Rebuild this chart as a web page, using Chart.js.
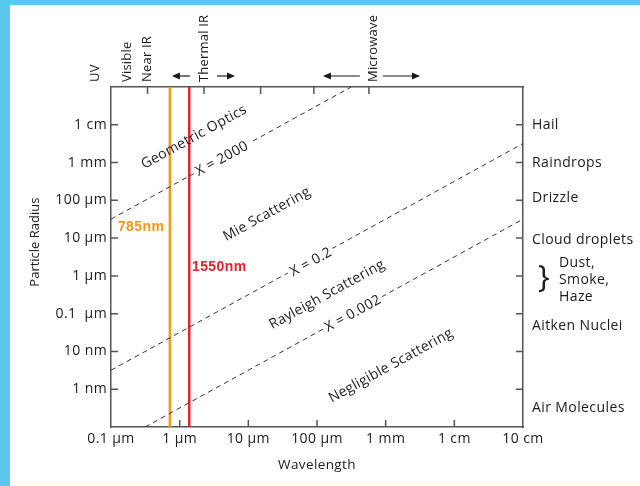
<!DOCTYPE html>
<html>
<head>
<meta charset="utf-8">
<script src="https://cdn.jsdelivr.net/npm/chart.js@4.4.1/dist/chart.umd.min.js"></script>
<style>
  html, body { margin: 0; padding: 0; background: #fff; }
  canvas { display: block; }
</style>
</head>
<body>
<canvas id="chart" width="640" height="486"></canvas>
<script>
// --- Data (all values in metres) ---
const wavelengthTicks = [1e-7, 1e-6, 1e-5, 1e-4, 1e-3, 1e-2, 1e-1];
const wavelengthLabels = ['0.1 µm', '1 µm', '10 µm', '100 µm', '1 mm', '1 cm', '10 cm'];
const radiusTicks = [1e-9, 1e-8, 1e-7, 1e-6, 1e-5, 1e-4, 1e-3, 1e-2];
const radiusLabels = ['1 nm', '10 nm', '0.1  µm', '1 µm', '10 µm', '100 µm', '1 mm', '1 cm'];

// spectral bands along the top edge
const bandTicks = [3.4e-7, 2.26e-6, 1.51e-5, 9.0e-5, 5.7e-4];
const bandNames = ['UV', 'Visible', 'Near IR', 'Thermal IR', 'Microwave'];
const bandAt = [5.85e-8, 1.71e-7, 3.34e-7, 2.26e-6, 6.5e-4];
const bandArrows = [[1.41e-6, 7.7e-7], [3.5e-6, 6.4e-6], [4.2e-4, 1.22e-4], [9.1e-4, 3.16e-3]]; // from -> to

// particle types along the right edge
const particleNames = ['Hail', 'Raindrops', 'Drizzle', 'Cloud droplets', ['Dust,', 'Smoke,', 'Haze'], 'Aitken Nuclei', 'Air Molecules'];
const particleAt = [1e-2, 1e-3, 1.14e-4, 8.7e-6, 7.6e-7, 4.6e-8, 3.1e-10];

// size parameter lines (end points)
const lineX2000 = [{x: 1e-7, y: 3.18e-5}, {x: 3.14e-4, y: 1e-1}];
const lineX02 = [{x: 1e-7, y: 3.18e-9}, {x: 1e-1, y: 3.18e-3}];
const lineX0002 = [{x: 3.14e-7, y: 1e-10}, {x: 1e-1, y: 3.18e-5}];

// laser wavelengths
const laserNames = ['785nm', '1550nm'];
const laserAt = [7.2e-7, 1.38e-6];
const laserColors = ['#f7941d', '#e3202b'];
const laserLabelAt = [{x: 1.26e-7, y: 1.93e-5}, {x: 1.51e-6, y: 1.68e-6}];

// region labels (centre of each text)
const regionNames = ['Geometric Optics', 'X = 2000', 'Mie Scattering', 'X = 0.2', 'Rayleigh Scattering', 'X = 0.002', 'Negligible Scattering'];
const regionAt = [
    {x: 1.62e-6, y: 4.72e-3},
    {x: 4.13e-6, y: 1.25e-3},
    {x: 1.87e-5, y: 4.28e-5},
    {x: 8.17e-5, y: 2.3e-6},
    {x: 1.4e-4, y: 3.2e-7},
    {x: 3.34e-4, y: 1.0e-7},
    {x: 1.19e-3, y: 4.2e-9}
];
const regionOnLine = [false, true, false, true, false, true, false];

const FONT = '"Open Sans", "DejaVu Sans", sans-serif';
const INK = '#1a1a1a';
const AXIS = '#555';
const SPACING = '0.4px';

// --- Datasets ---
function dashed(data) {
    return { data, borderColor: '#333', borderWidth: 1, borderDash: [5, 4], pointRadius: 0, fill: false };
}
const datasets = [dashed(lineX2000), dashed(lineX02), dashed(lineX0002)];
laserAt.forEach((v, i) => {
    datasets.push({
        data: [{x: v, y: 1e-10}, {x: v, y: 1e-1}],
        borderColor: laserColors[i], borderWidth: 2.5, pointRadius: 0, fill: false
    });
});

// --- Extra labels, inward ticks and page edge ---
const overlay = {
    id: 'overlay',
    beforeDraw(chart) {
        const { ctx, width, height } = chart;
        ctx.save();
        ctx.fillStyle = '#fff';
        ctx.fillRect(0, 0, width, height);
        ctx.fillStyle = '#fdfcf1';
        ctx.fillRect(0, 482, width, height - 482);
        ctx.fillStyle = '#5bc6ee';
        ctx.fillRect(0, 0, 10, height);
        ctx.fillRect(0, 0, width, 5);
        ctx.restore();
        // slightly wider tracking for the axis tick labels
        ctx.letterSpacing = SPACING;
    },
    afterDraw(chart) {
        const { ctx, chartArea: a } = chart;
        const xs = chart.scales.x;
        const ys = chart.scales.y;
        ctx.save();

        // inward tick marks
        ctx.strokeStyle = AXIS;
        ctx.lineWidth = 1.5;
        ctx.beginPath();
        radiusTicks.forEach((v) => {
            const y = ys.getPixelForValue(v);
            ctx.moveTo(a.left, y); ctx.lineTo(a.left + 7, y);
            ctx.moveTo(a.right, y); ctx.lineTo(a.right - 7, y);
        });
        wavelengthTicks.slice(1, -1).forEach((v) => {
            const x = xs.getPixelForValue(v);
            ctx.moveTo(x, a.bottom); ctx.lineTo(x, a.bottom - 7);
        });
        bandTicks.forEach((v) => {
            const x = xs.getPixelForValue(v);
            ctx.moveTo(x, a.top); ctx.lineTo(x, a.top + 7);
        });
        ctx.stroke();

        // band names (rotated) and arrows
        ctx.letterSpacing = '0.2px';
        ctx.fillStyle = INK;
        ctx.font = '13px ' + FONT;
        ctx.textAlign = 'left';
        ctx.textBaseline = 'middle';
        bandNames.forEach((name, i) => {
            ctx.save();
            ctx.translate(xs.getPixelForValue(bandAt[i]), a.top - 5);
            ctx.rotate(-Math.PI / 2);
            ctx.fillText(name, 0, 0);
            ctx.restore();
        });
        ctx.strokeStyle = INK;
        ctx.lineWidth = 1.2;
        bandArrows.forEach(([from, to]) => {
            const x0 = xs.getPixelForValue(from);
            const x1 = xs.getPixelForValue(to);
            const y = a.top - 11;
            const dir = Math.sign(x1 - x0);
            ctx.beginPath();
            ctx.moveTo(x0, y); ctx.lineTo(x1 - dir * 5, y);
            ctx.stroke();
            ctx.beginPath();
            ctx.moveTo(x1, y); ctx.lineTo(x1 - dir * 8, y - 3.5); ctx.lineTo(x1 - dir * 8, y + 3.5);
            ctx.closePath();
            ctx.fill();
        });

        // y axis title
        ctx.save();
        ctx.font = '13px ' + FONT;
        ctx.letterSpacing = '0px';
        ctx.translate(35, (ys.getPixelForValue(1e-4) + ys.getPixelForValue(1e-6)) / 2 + 4);
        ctx.rotate(-Math.PI / 2);
        ctx.textAlign = 'center';
        ctx.fillText('Particle Radius', 0, 0);
        ctx.restore();

        // particle types on the right
        ctx.letterSpacing = SPACING;
        ctx.font = '14px ' + FONT;
        ctx.textAlign = 'left';
        particleNames.forEach((name, i) => {
            const y = ys.getPixelForValue(particleAt[i]);
            if (Array.isArray(name)) {
                name.forEach((line, k) => ctx.fillText(line, a.right + 36, y + (k - 1) * 17));
                ctx.save();
                ctx.font = '31px ' + FONT;
                ctx.textAlign = 'center';
                ctx.fillText('}', a.right + 21, y - 2);
                ctx.restore();
            } else {
                ctx.fillText(name, a.right + 9, y);
            }
        });

        // laser labels
        ctx.font = 'bold 14px "Liberation Sans", Arial, sans-serif';
        laserNames.forEach((name, i) => {
            ctx.fillStyle = laserColors[i];
            ctx.fillText(name, xs.getPixelForValue(laserLabelAt[i].x), ys.getPixelForValue(laserLabelAt[i].y));
        });

        // diagonal region labels
        const ang = Math.atan2(
            ys.getPixelForValue(1e-5) - ys.getPixelForValue(1e-6),
            xs.getPixelForValue(1e-5) - xs.getPixelForValue(1e-6)
        );
        ctx.letterSpacing = '0.3px';
        ctx.font = '14px ' + FONT;
        ctx.textAlign = 'center';
        regionNames.forEach((name, i) => {
            ctx.save();
            ctx.translate(xs.getPixelForValue(regionAt[i].x), ys.getPixelForValue(regionAt[i].y));
            ctx.rotate(ang);
            if (regionOnLine[i]) {
                const w = ctx.measureText(name).width;
                ctx.fillStyle = '#fff';
                ctx.fillRect(-w / 2 - 3, -6, w + 6, 12);
            }
            ctx.fillStyle = INK;
            ctx.fillText(name, 0, 0);
            ctx.restore();
        });

        ctx.restore();
    }
};

const tickFont = { family: FONT, size: 14 };
const border = { display: true, color: AXIS, width: 1.5 };

new Chart(document.getElementById('chart'), {
    type: 'line',
    data: { datasets },
    plugins: [overlay],
    options: {
        responsive: false,
        animation: false,
        layout: { padding: 0 },
        plugins: { legend: { display: false }, tooltip: { enabled: false } },
        scales: {
            x: {
                type: 'logarithmic', position: 'bottom', min: 1e-7, max: 1e-1,
                afterFit: (s) => { s.height = 59; },
                afterBuildTicks: (s) => { s.ticks = wavelengthTicks.map((v) => ({ value: v })); },
                ticks: {
                    autoSkip: false, maxRotation: 0, padding: 4, color: INK, font: tickFont,
                    callback: (v, i) => wavelengthLabels[i]
                },
                grid: { display: false, drawTicks: false },
                border,
                title: { display: true, text: 'Wavelength', color: INK, font: { family: FONT, size: 13.5 }, padding: { bottom: 13 } }
            },
            xTop: {
                type: 'logarithmic', position: 'top', min: 1e-7, max: 1e-1,
                afterFit: (s) => { s.height = 87; },
                ticks: { display: false },
                grid: { display: false, drawTicks: false },
                border
            },
            y: {
                type: 'logarithmic', position: 'left', min: 1e-10, max: 1e-1,
                afterFit: (s) => { s.width = 111; },
                afterBuildTicks: (s) => { s.ticks = radiusTicks.map((v) => ({ value: v })); },
                ticks: {
                    autoSkip: false, padding: 4, color: INK, font: tickFont,
                    callback: (v, i) => radiusLabels[i]
                },
                grid: { display: false, drawTicks: false },
                border
            },
            yRight: {
                type: 'logarithmic', position: 'right', min: 1e-10, max: 1e-1,
                afterFit: (s) => { s.width = 117; },
                ticks: { display: false },
                grid: { display: false, drawTicks: false },
                border
            }
        }
    }
});
</script>
</body>
</html>
